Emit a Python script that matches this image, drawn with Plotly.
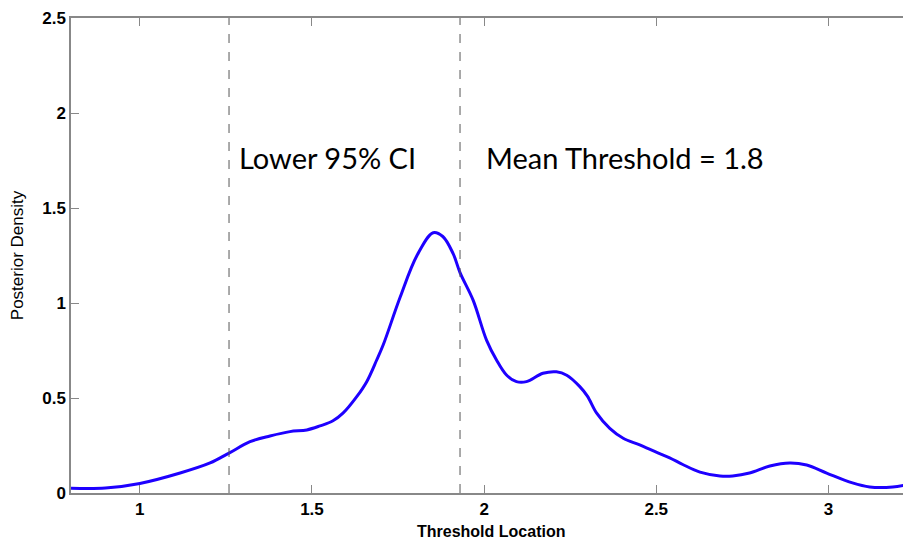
import plotly.graph_objects as go

# Data
threshold = [0.80, 0.90, 1.00, 1.117, 1.204, 1.259, 1.32, 1.378, 1.436, 1.485, 1.523, 1.561, 1.59,
             1.63, 1.659, 1.688, 1.707, 1.756, 1.805, 1.852, 1.88, 1.91, 1.93, 1.968, 2.007,
             2.036, 2.065, 2.094, 2.123, 2.171, 2.21, 2.24, 2.278, 2.30, 2.327, 2.365, 2.404,
             2.452, 2.5, 2.539, 2.577, 2.627, 2.685, 2.722, 2.771, 2.83, 2.888, 2.937, 2.995,
             3.07, 3.12, 3.187, 3.236]
density = [0.025, 0.026, 0.05, 0.105, 0.158, 0.21, 0.27, 0.30, 0.323, 0.332, 0.353, 0.38, 0.42,
           0.507, 0.586, 0.70, 0.78, 1.03, 1.25, 1.37, 1.35, 1.26, 1.16, 1.015, 0.805,
           0.70, 0.621, 0.586, 0.586, 0.63, 0.638, 0.62, 0.56, 0.51, 0.42, 0.34, 0.288,
           0.253, 0.215, 0.185, 0.15, 0.11, 0.09, 0.09, 0.105, 0.142, 0.158, 0.147, 0.105,
           0.053, 0.032, 0.032, 0.047]
ci_lines = [1.259, 1.93]
labels = ["Lower 95% CI", "Mean Threshold = 1.8"]
x_ticks = [1, 1.5, 2, 2.5, 3]
y_ticks = [0, 0.5, 1, 1.5, 2, 2.5]

fig = go.Figure()
fig.add_trace(go.Scatter(x=threshold, y=density, mode="lines", line_shape="spline",
                         line=dict(color="rgb(30,0,255)", width=3), showlegend=False))

for xv in ci_lines:
    fig.add_shape(type="line", x0=xv, x1=xv, y0=0, y1=1, yref="paper",
                  line=dict(color="#555555", width=1, dash="dash"))

fig.add_annotation(x=ci_lines[0], y=1.765, text=labels[0], showarrow=False, xanchor="left",
                   xshift=8, font=dict(family="Lato", size=29, color="black"))
fig.add_annotation(x=ci_lines[1], y=1.765, text=labels[1], showarrow=False, xanchor="left",
                   xshift=24, font=dict(family="Lato", size=29, color="black"))

# x-axis title placed under the tick labels
fig.add_annotation(x=0.5, y=0, xref="paper", yref="paper", yshift=-38, yanchor="middle",
                   text="Threshold Location", showarrow=False,
                   font=dict(family="Liberation Sans", size=16, color="black", weight="bold"))

axis_common = dict(showline=True, linecolor="#888888", linewidth=1.5, mirror="ticks",
                   ticks="inside", ticklen=8, tickcolor="#888888", showgrid=False,
                   zeroline=False, automargin=False,
                   tickfont=dict(family="Liberation Sans", size=17, color="black", weight="bold"))

fig.update_xaxes(range=[0.8, 3.24], tickvals=x_ticks, ticktext=[str(v) for v in x_ticks],
                 **axis_common)
fig.update_yaxes(range=[0, 2.5], tickvals=y_ticks, ticktext=[str(v) for v in y_ticks],
                 title=dict(text="Posterior Density", standoff=15,
                            font=dict(family="Liberation Sans", size=17, color="black")),
                 **axis_common)

# page body has an 8px default margin; figure sized to fill the rest of the window
fig.update_layout(width=903, height=536, margin=dict(l=63, r=0, t=10, b=51),
                  plot_bgcolor="white", paper_bgcolor="white")

fig.write_html("out.html")
